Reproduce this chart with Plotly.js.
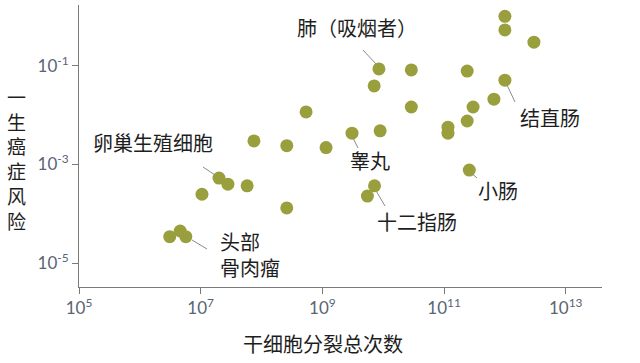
<!DOCTYPE html>
<html>
<head>
<meta charset="utf-8">
<script src="https://cdn.plot.ly/plotly-3.0.1.min.js"></script>
<style>html,body{margin:0;padding:0;background:#fff;}#chart{width:640px;height:363px;}</style>
</head>
<body>
<div id="chart"></div>
<script>
// Total stem cell divisions (x) and lifetime cancer risk (y)
const stemDivisions = [1.0e12, 1.0e12, 3.0e12, 8.5e9, 2.9e10, 2.4e11, 1.0e12, 7.1e9, 6.6e11, 5.4e8,
  2.9e10, 3.0e11, 2.4e11, 1.16e11, 1.16e11, 3.07e9, 8.9e9, 7.5e7, 2.6e8, 1.15e9,
  2.6e11, 2.0e7, 2.8e7, 5.8e7, 7.2e9, 5.5e9, 1.05e7, 2.6e8, 3.1e6, 4.6e6, 5.7e6];
const lifetimeRisk = [1.0, 0.53, 0.30, 0.086, 0.082, 0.078, 0.051, 0.039, 0.021, 0.0116,
  0.0146, 0.0146, 0.0076, 0.0057, 0.0043, 0.0043, 0.0048, 0.0030, 0.0024, 0.0022,
  0.00077, 0.00053, 0.00040, 0.00037, 0.00037, 0.00023, 0.00025, 0.000132, 3.45e-5, 4.5e-5, 3.45e-5];

const xTickVals = [1e5, 1e7, 1e9, 1e11, 1e13];
const xTickText = ['10<sup>5</sup>', '10<sup>7</sup>', '10<sup>9</sup>', '10<sup>11</sup>', '10<sup>13</sup>'];
const yTickVals = [1e-5, 1e-3, 1e-1];
const yTickText = ['10<sup>-5</sup>', '10<sup>-3</sup>', '10<sup>-1</sup>'];

const xTitle = '干细胞分裂总次数';
const yTitle = '一生癌症风险';
const labels = ['肺（吸烟者）', '结直肠', '小肠', '十二指肠', '睾丸', '卵巢生殖细胞', '头部<br>骨肉瘤'];

// plot-area pixel frame
const L = 79, R = 602, T = 5, B = 287;
const px = x => (x - L) / (R - L);
const py = y => (B - y) / (B - T);

const cjk = '"Noto Sans CJK SC", "Noto Sans", sans-serif';
const txtColor = '#1e1e1e';

function ann(text, x, y, xanchor) {
  return {text: text, xref: 'paper', yref: 'paper', x: px(x), y: py(y),
    xanchor: xanchor || 'center', yanchor: 'middle', align: xanchor === 'left' ? 'left' : 'center',
    showarrow: false, font: {family: cjk, size: 20, color: txtColor}};
}
function leader(x0, y0, x1, y1) {
  return {type: 'line', xref: 'paper', yref: 'paper', x0: px(x0), y0: py(y0), x1: px(x1), y1: py(y1),
    line: {color: '#8a8a8a', width: 1}, layer: 'below'};
}

const trace = {
  x: stemDivisions, y: lifetimeRisk, type: 'scatter', mode: 'markers',
  marker: {size: 13, color: '#9a9f3d', line: {width: 0}}, hoverinfo: 'x+y'
};

const layout = {
  width: 640, height: 363,
  margin: {l: L, r: 640 - R, t: T, b: 363 - B},
  paper_bgcolor: '#ffffff', plot_bgcolor: '#ffffff',
  showlegend: false,
  xaxis: {type: 'log', range: [5, 13.596], showgrid: false, zeroline: false,
    showline: true, linecolor: '#7a7a7a', linewidth: 1,
    ticks: 'outside', ticklen: 6, tickcolor: '#7a7a7a', tickwidth: 1,
    tickvals: xTickVals, ticktext: xTickText,
    tickfont: {family: 'Lato, "Open Sans", sans-serif', size: 17, color: '#5a6473'}},
  yaxis: {type: 'log', range: [-5.48, 0.229], showgrid: false, zeroline: false,
    showline: true, linecolor: '#7a7a7a', linewidth: 1,
    ticks: 'outside', ticklen: 6, tickcolor: '#7a7a7a', tickwidth: 1,
    tickvals: yTickVals, ticktext: yTickText,
    tickfont: {family: 'Lato, "Open Sans", sans-serif', size: 17, color: '#5a6473'}},
  annotations: [
    ann(labels[0], 357, 28),
    ann(labels[1], 550, 117),
    ann(labels[2], 498, 190),
    ann(labels[3], 417, 222),
    ann(labels[4], 370, 160),
    ann(labels[5], 153, 142),
    ann(labels[6], 218, 254, 'left'),
    {text: yTitle.split('').join('<br>'), xref: 'paper', yref: 'paper', x: px(16), y: py(158.5),
      xanchor: 'center', yanchor: 'middle', showarrow: false,
      font: {family: cjk, size: 19, color: txtColor}},
    {text: xTitle, xref: 'paper', yref: 'paper', x: px(323), y: py(343),
      xanchor: 'center', yanchor: 'middle', showarrow: false,
      font: {family: cjk, size: 20, color: txtColor}}
  ],
  shapes: [
    leader(363, 50, 376, 64),
    leader(507, 85, 515, 102),
    leader(470, 172, 477, 178),
    leader(375, 189, 385, 206),
    leader(353, 138, 358, 148),
    leader(203, 167, 215, 175),
    leader(192, 240, 207, 249)
  ]
};

Plotly.newPlot('chart', [trace], layout, {displayModeBar: false, staticPlot: true});
</script>
</body>
</html>
